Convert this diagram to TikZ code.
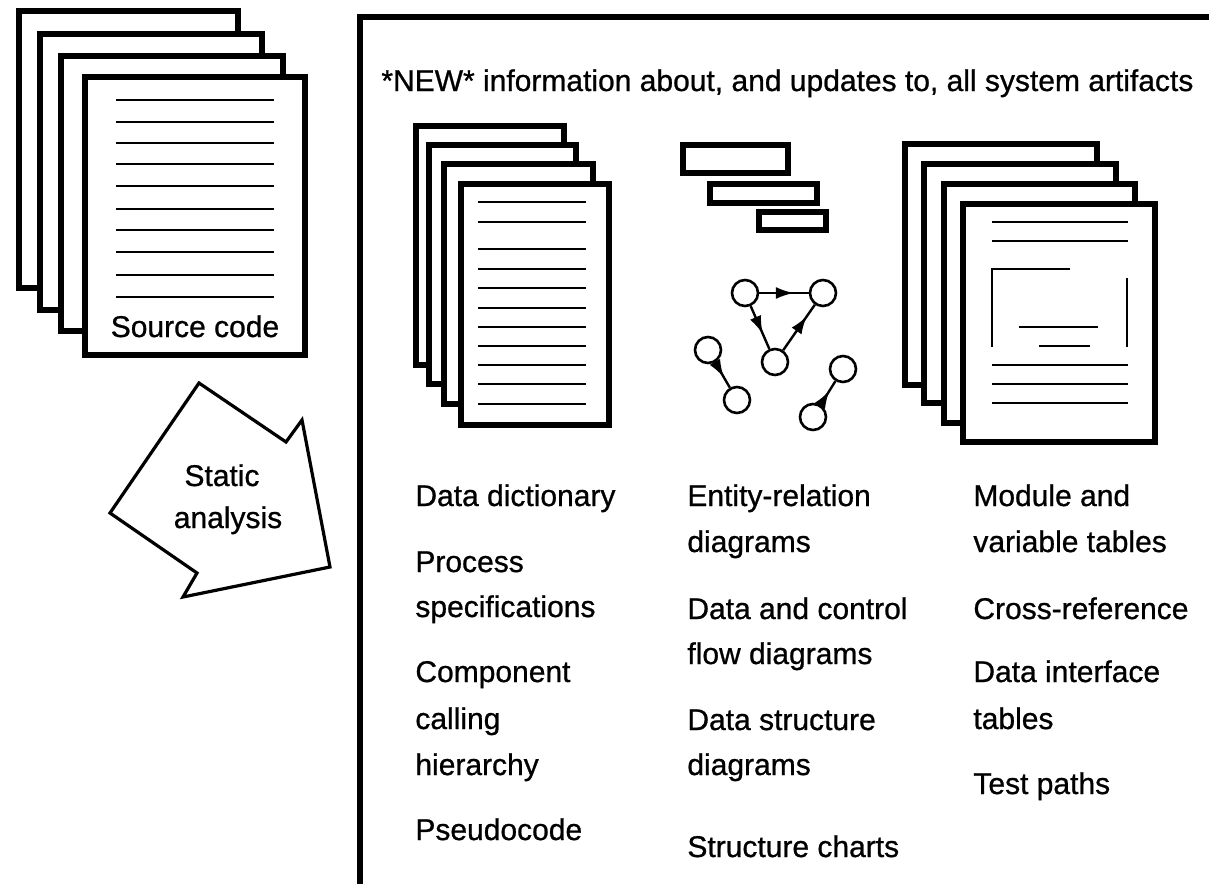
\documentclass[tikz,border=0pt]{standalone}
\usepackage{fontspec}
\setmainfont{Liberation Sans}
\newfontfamily\handfont{Liberation Sans}[FakeBold=0.8]
\usetikzlibrary{arrows.meta,decorations.markings}
\tikzset{
    page/.style={draw, fill=white, line width=3pt},
    rule/.style={line width=1pt},
    bar/.style={draw, line width=3pt},
    lbl/.style={anchor=base west, inner sep=0pt, font=\handfont\fontsize{15}{18}\selectfont},
    ent/.style={circle, draw, line width=1.3pt, minimum size=13pt, inner sep=0pt},
    rel/.style={line width=1.2pt, postaction={decorate},
        decoration={markings, mark=at position #1 with {\arrow{Latex[length=9pt,width=6pt]}}}},
    rel/.default=0.6
}
\begin{document}
\begin{tikzpicture}[x=0.5pt, y=-0.5pt]
    \useasboundingbox (0,0) rectangle (1209,883);

    % Source code stack
    \draw[page] (19,11) rectangle (238,288);
    \draw[page] (40,34) rectangle (262,310);
    \draw[page] (61,56) rectangle (283,331);
    \draw[page] (85,77) rectangle (305,355);
    \foreach \y in {100,122,143,164,186,209,230,252,275,297}
        \draw[rule] (116,\y) -- (274,\y);
    \node[lbl, anchor=base] (src) at (195,337) {Source code};

    % Static analysis arrow
    \draw[line width=1.6pt, fill=white] (110,513) -- (199,383) -- (286,442) -- (302,420)
        -- (330,567) -- (183,597) -- (197,573) -- cycle;
    \node[lbl, anchor=base] (sa1) at (222,486) {Static};
    \node[lbl, anchor=base] (sa2) at (228,528) {analysis};

    % Artifacts box
    \draw[line width=3.3pt] (360,900) -- (360,17) -- (1230,17);
    \node[lbl] (title) at (381,91) {*NEW* information about, and updates to, all system artifacts};

    % Dictionary stack
    \draw[page] (416,126) rectangle (564,365);
    \draw[page] (429,145) rectangle (576,384);
    \draw[page] (444,164) rectangle (593,404);
    \draw[page] (461,184) rectangle (609,425);
    \foreach \y in {202,222,249,269,288,308,327,346,365,384,404}
        \draw[rule] (478,\y) -- (586,\y);

    % Bars
    \draw[bar] (683,145) rectangle (788,173);
    \draw[bar] (710,184) rectangle (817,203);
    \draw[bar] (759,212) rectangle (826,230);

    % Entities
    \node[ent] (e1) at (745,293) {};
    \node[ent] (e2) at (823,293) {};
    \node[ent] (e3) at (775,362) {};
    \node[ent] (e4) at (708,350) {};
    \node[ent] (e5) at (737,400) {};
    \node[ent] (e6) at (843,369) {};
    \node[ent] (e7) at (813,417) {};

    % Relations
    \draw[rel=0.7] (e1) -- (e2);
    \draw[rel=0.65] (e1) -- (e3);
    \draw[rel=0.75] (e3) -- (e2);
    \draw[rel] (e4) -- (e5);
    \draw[rel] (e7) -- (e6);

    % Tables stack
    \draw[page] (905,144) rectangle (1097,385);
    \draw[page] (924,164) rectangle (1116,403);
    \draw[page] (944,184) rectangle (1135,423);
    \draw[page] (963,204) rectangle (1155,442);
    \foreach \y in {222,241,365,384,403}
        \draw[rule] (992,\y) -- (1128,\y);
    \draw[rule] (992,347) -- (992,269) -- (1070,269);
    \draw[rule] (1127,278) -- (1127,347);
    \draw[rule] (1019,327) -- (1098,327);
    \draw[rule] (1039,346) -- (1090,346);

    % Labels, first column
    \node[lbl] (dd) at (415,506) {Data dictionary};
    \node[lbl] (ps1) at (415,572) {Process};
    \node[lbl] (ps2) at (415,617) {specifications};
    \node[lbl] (cc1) at (415,682) {Component};
    \node[lbl] (cc2) at (415,729) {calling};
    \node[lbl] (cc3) at (415,775) {hierarchy};
    \node[lbl] (pc) at (415,840) {Pseudocode};

    % Labels, second column
    \node[lbl] (er1) at (687,506) {Entity-relation};
    \node[lbl] (er2) at (687,552) {diagrams};
    \node[lbl] (cf1) at (687,619) {Data and control};
    \node[lbl] (cf2) at (687,664) {flow diagrams};
    \node[lbl] (ds1) at (687,730) {Data structure};
    \node[lbl] (ds2) at (687,775) {diagrams};
    \node[lbl] (sc) at (687,857) {Structure charts};

    % Labels, third column
    \node[lbl] (mv1) at (973,506) {Module and};
    \node[lbl] (mv2) at (973,552) {variable tables};
    \node[lbl] (xr) at (973,619) {Cross-reference};
    \node[lbl] (di1) at (973,682) {Data interface};
    \node[lbl] (di2) at (973,729) {tables};
    \node[lbl] (tp) at (973,794) {Test paths};
\end{tikzpicture}
\end{document}
